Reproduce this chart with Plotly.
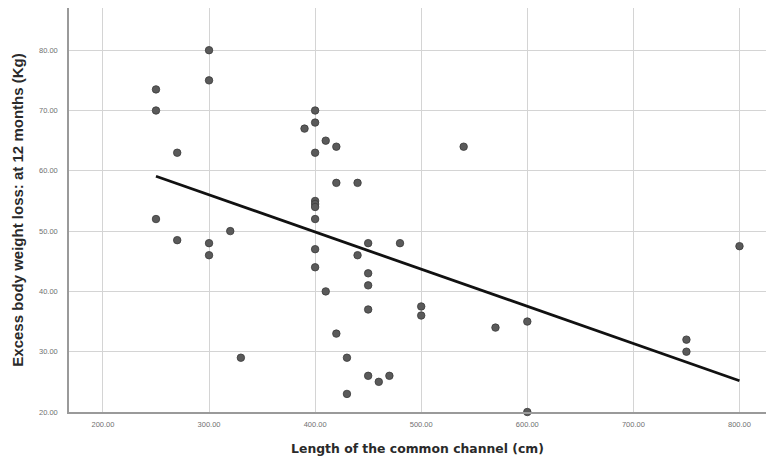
import numpy as np
import plotly.graph_objects as go

# Length of the common channel (cm)
channel_cm = [250, 250, 250, 270, 270, 300, 300, 300, 300, 320, 330,
              390, 400, 400, 410, 420, 400, 420, 440, 400, 400, 400, 400,
              400, 400, 410, 420, 430, 430, 450, 440, 450, 450, 450, 450,
              460, 470, 480, 540, 500, 500, 570, 600, 600, 750, 750, 800]
# Excess body weight loss at 12 months (Kg)
ebwl_kg = [73.5, 70, 52, 63, 48.5, 80, 75, 48, 46, 50, 29,
           67, 70, 68, 65, 64, 63, 58, 58, 55, 54.5, 54, 52,
           47, 44, 40, 33, 29, 23, 48, 46, 43, 41, 37, 26,
           25, 26, 48, 64, 37.5, 36, 34, 35, 20, 32, 30, 47.5]

x_ticks = [200, 300, 400, 500, 600, 700, 800]
y_ticks = [20, 30, 40, 50, 60, 70, 80]

# Linear fit line
slope, intercept = np.polyfit(channel_cm, ebwl_kg, 1)
fit_x = np.array([min(channel_cm), max(channel_cm)])
fit_y = slope * fit_x + intercept

fig = go.Figure()
fig.add_trace(go.Scatter(
    x=channel_cm, y=ebwl_kg, mode="markers",
    marker=dict(size=7.5, color="#5a5a5a", line=dict(color="#3a3a3a", width=0.8)),
    showlegend=False, cliponaxis=False))
fig.add_trace(go.Scatter(
    x=fit_x, y=fit_y, mode="lines",
    line=dict(color="#111111", width=2.8), showlegend=False))

tickfont = dict(family="Liberation Sans, Arial, sans-serif", size=7.5, color="#707070")
xtitlefont = dict(family="DejaVu Sans, Verdana, sans-serif", size=12.4, color="#2a2a2a", weight="bold")
ytitlefont = dict(family="Liberation Sans, Arial, sans-serif", size=15, color="#2a2a2a", weight="bold")

fig.update_layout(
    width=766, height=463,
    margin=dict(l=69, r=0, t=8, b=51),
    paper_bgcolor="white", plot_bgcolor="white",
    xaxis=dict(range=[168, 825], tickvals=x_ticks,
               ticktext=[f"{v:.2f}" for v in x_ticks],
               tickfont=tickfont, showgrid=True, gridcolor="#d4d4d4", gridwidth=1,
               showline=True, linecolor="#9a9a9a", linewidth=1.5, zeroline=False,
               ticks="", ticklabelstandoff=4,
               title=dict(text="Length of the common channel (cm)", font=xtitlefont, standoff=17)),
    yaxis=dict(range=[20, 87], tickvals=y_ticks,
               ticktext=[f"{v:.2f}" for v in y_ticks],
               tickfont=tickfont, showgrid=True, gridcolor="#d4d4d4", gridwidth=1,
               showline=True, linecolor="#9a9a9a", linewidth=1.5, zeroline=False,
               ticks="", ticklabelstandoff=8,
               title=dict(text="Excess body weight loss: at 12 months (Kg)", font=ytitlefont, standoff=12)),
)
fig.write_html("out.html")
